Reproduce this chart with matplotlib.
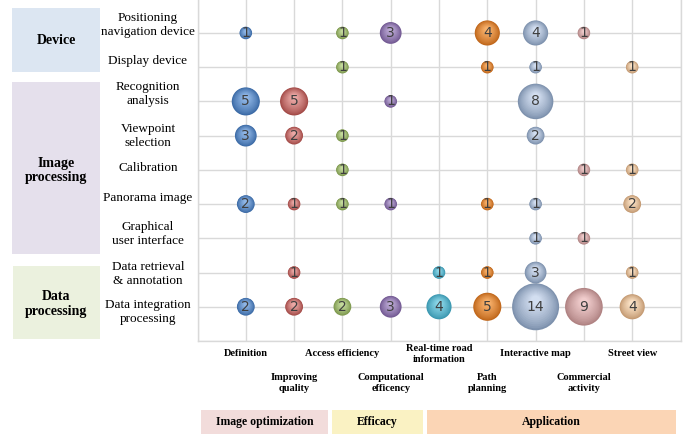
import numpy as np
import matplotlib
matplotlib.use("Agg")
import matplotlib.pyplot as plt
from matplotlib.colors import to_rgb
from matplotlib.patches import Rectangle

# ---- data ---------------------------------------------------------------
technologies = [
    "Positioning\nnavigation device",
    "Display device",
    "Recognition\nanalysis",
    "Viewpoint\nselection",
    "Calibration",
    "Panorama image",
    "Graphical\nuser interface",
    "Data retrieval\n& annotation",
    "Data integration\nprocessing",
]
purposes = [
    "Definition", "Improving\nquality", "Access efficiency",
    "Computational\nefficency", "Real-time road\ninformation",
    "Path\nplanning", "Interactive map", "Commercial\nactivity", "Street view",
]
# publication counts, one list per technology row (0 = no publication)
counts = [
    [1, 0, 1, 3, 0, 4, 4, 1, 0],
    [0, 0, 1, 0, 0, 1, 1, 0, 1],
    [5, 5, 0, 1, 0, 0, 8, 0, 0],
    [3, 2, 1, 0, 0, 0, 2, 0, 0],
    [0, 0, 1, 0, 0, 0, 0, 1, 1],
    [2, 1, 1, 1, 0, 1, 1, 0, 2],
    [0, 0, 0, 0, 0, 0, 1, 1, 0],
    [0, 1, 0, 0, 1, 1, 3, 0, 1],
    [2, 2, 2, 3, 4, 5, 14, 9, 4],
]
tech_groups = ["Device", "Image\nprocessing", "Data\nprocessing"]
purpose_groups = ["Image optimization", "Efficacy", "Application"]

# sphere colours per purpose column: (edge shade, highlight shade)
palette = [
    ("#3b6aa6", "#8fb6e6"),
    ("#a34a47", "#eaa8a5"),
    ("#7c974c", "#c3d99c"),
    ("#715892", "#bba8d4"),
    ("#3a97b0", "#8ad6e8"),
    ("#c0661a", "#f7b06a"),
    ("#7d91ad", "#d2def0"),
    ("#b08383", "#f0cccc"),
    ("#c49a72", "#fbe2c6"),
]

# ---- figure layout --------------------------------------------------------
W, H = 686, 434
fig = plt.figure(figsize=(W / 100, H / 100), dpi=100)
ax_left, ax_right, ax_bottom, ax_top = 197.5, 680.5, 341.0, -1.25
ax = fig.add_axes([ax_left / W, 1 - ax_bottom / H,
                   (ax_right - ax_left) / W, (ax_bottom - ax_top) / H])
ax.set_xlim(0, 10)
ax.set_ylim(0, 10)
ax.set_xticks(np.arange(0, 11))
ax.set_yticks(np.arange(0, 11))
ax.tick_params(length=0, labelbottom=False, labelleft=False)
ax.grid(True, color="#d9d9d9", lw=1.0, zorder=0)
ax.set_axisbelow(True)
for side in ("left", "right", "bottom"):
    ax.spines[side].set_color("#d9d9d9")
    ax.spines[side].set_linewidth(1.0)
ax.spines["top"].set_visible(False)

px_per_y = (ax_bottom - ax_top) / 10.0
max_count = 14
max_diam_px = 47.0


def mix(c1, c2, t):
    a, b = np.array(to_rgb(c1)), np.array(to_rgb(c2))
    return tuple(a * (1 - t) + b * t)


n_layers = 14
for r, row in enumerate(counts):
    y = 9 - r
    for c, v in enumerate(row):
        if v <= 0:
            continue
        x = c + 1
        edge, light = palette[c]
        diam_px = max_diam_px * np.sqrt(v / max_count)
        rad_px = diam_px / 2
        for k in range(n_layers):
            t = k / (n_layers - 1)
            f = 1 - 0.8 * t
            d_pt = diam_px * f * 0.72
            dy = (rad_px * 0.28 * t) / px_per_y
            ax.scatter([x], [y + dy], s=d_pt ** 2, color=mix(edge, light, t ** 0.8),
                       edgecolors="none", zorder=3 + k * 0.01)
        ax.text(x, y, str(v), ha="center", va="center", fontsize=10,
                color="#3f3f3f", family="DejaVu Sans", zorder=5)


def fig_text(px, py, s, **kw):
    fig.text(px / W, 1 - py / H, s, **kw)


serif = "Liberation Serif"

# technology row labels
row_label_y = [25, 61, 94, 136, 168, 198, 234, 274, 312]
for lab, py in zip(technologies, row_label_y):
    fig_text(148, py, lab, ha="center", va="center", fontsize=9.5,
             family=serif, linespacing=1.15)

# technology group boxes
left_boxes = [(12, 8, 100, 72, "#dce6f2"),
              (12, 82, 100, 254, "#e5e0ec"),
              (13, 266, 100, 339, "#ebf1de")]
group_label_y = [41, 170, 304]
for (x0, y0, x1, y1, col), lab, py in zip(left_boxes, tech_groups, group_label_y):
    fig.patches.append(Rectangle((x0 / W, 1 - y1 / H), (x1 - x0) / W, (y1 - y0) / H,
                                 transform=fig.transFigure, facecolor=col,
                                 edgecolor="none", zorder=0))
    fig_text((x0 + x1) / 2, py, lab, ha="center", va="center", fontsize=10,
             family=serif, fontweight="bold", linespacing=1.1)

# purpose column labels (staggered)
col_px = [ax_left + (c + 1) * (ax_right - ax_left) / 10 for c in range(9)]
for c, lab in enumerate(purposes):
    py = 354 if c % 2 == 0 else 383
    fig_text(col_px[c], py, lab, ha="center", va="center", fontsize=7.5,
             family=serif, fontweight="bold", linespacing=1.3)

# purpose group boxes
bottom_boxes = [(201, 328, "#f2dcdb"), (332, 423, "#faf2c3"), (427, 676, "#fbd5b5")]
for (x0, x1, col), lab in zip(bottom_boxes, purpose_groups):
    fig.patches.append(Rectangle((x0 / W, 0), (x1 - x0) / W, 24 / H,
                                 transform=fig.transFigure, facecolor=col,
                                 edgecolor="none", zorder=0))
    fig_text((x0 + x1) / 2, 422, lab, ha="center", va="center", fontsize=8.5,
             family=serif, fontweight="bold")

fig.savefig("out.png", dpi=100)
